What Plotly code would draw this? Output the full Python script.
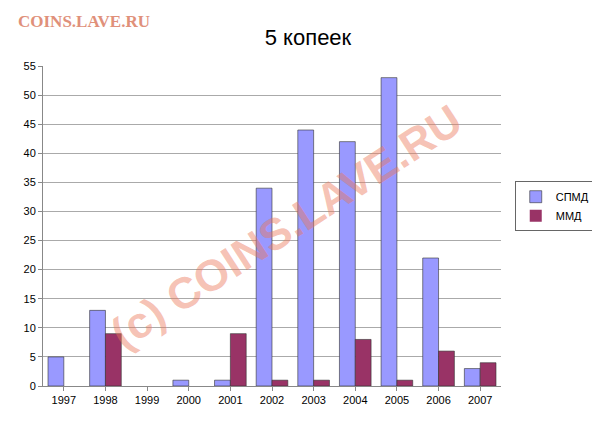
import plotly.graph_objs as go

years = ['1997', '1998', '1999', '2000', '2001', '2002', '2003', '2004', '2005', '2006', '2007']
spmd = [5, 13, 0, 1, 1, 34, 44, 42, 53, 22, 3]
mmd = [0, 9, 0, 0, 9, 1, 1, 8, 1, 6, 4]


def outline(values):
    # no outline for empty bars
    return [0.6 if v else 0 for v in values]


data = [
    go.Bar(x=years, y=spmd, name='СПМД',
           marker=dict(color='#9999ff', line=dict(color='#333333', width=outline(spmd)))),
    go.Bar(x=years, y=mmd, name='ММД',
           marker=dict(color='#993366', line=dict(color='#333333', width=outline(mmd)))),
]

layout = go.Layout(
    width=600, height=423,
    paper_bgcolor='white', plot_bgcolor='white',
    font=dict(family='Liberation Sans, Arial', size=11, color='black'),
    title=dict(text='5 копеек', x=0.5, y=0.95, xanchor='center',
               font=dict(size=22, color='black')),
    margin=dict(l=35, r=95, t=58, b=45),
    bargap=0.24, bargroupgap=0,
    xaxis=dict(showline=True, linecolor='#888888', ticks='outside',
               tickcolor='#888888', ticklen=4),
    yaxis=dict(range=[0, 55], dtick=5, showgrid=True, gridcolor='#aaaaaa',
               showline=True, linecolor='#888888', ticks='outside',
               tickcolor='#888888', ticklen=4, zeroline=False),
    legend=dict(x=1.03, y=0.64, xanchor='left', yanchor='top',
                bordercolor='#666666', borderwidth=1, font=dict(size=11)),
    annotations=[
        dict(text='<b>COINS.LAVE.RU</b>', xref='paper', yref='paper',
             x=-0.06, y=1.14, xanchor='left', yanchor='middle', showarrow=False,
             font=dict(family='Liberation Serif', size=17, color='#e0907a')),
        dict(text='<b>(c) COINS.LAVE.RU</b>', xref='paper', yref='paper',
             x=0.53, y=0.5, showarrow=False, textangle=-33,
             font=dict(family='Liberation Sans', size=44, color='rgba(235,120,90,0.45)')),
    ],
)

fig = go.Figure(data=data, layout=layout)
fig.write_html('out.html')
